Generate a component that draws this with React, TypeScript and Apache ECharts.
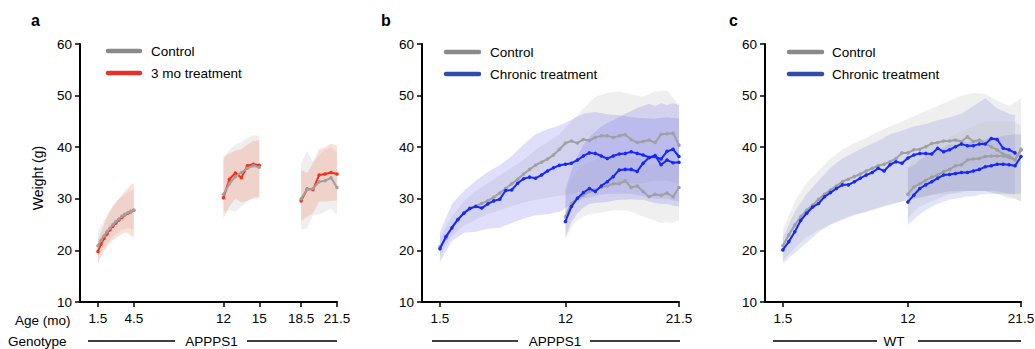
import React, { useEffect, useRef } from "react";
import * as echarts from "echarts";

// ---------- Panel a (APPPS1, 3 mo treatment) ----------
const aAges1 = [1.5, 1.75, 2, 2.25, 2.5, 2.75, 3, 3.25, 3.5, 3.75, 4, 4.25, 4.5];
const aCtrl1 = [20.9, 21.9, 22.8, 23.6, 24.3, 25.0, 25.6, 26.1, 26.6, 27.0, 27.3, 27.6, 27.8];
const aTrt1 = [19.8, 21.2, 22.3, 23.2, 24.0, 24.7, 25.3, 25.9, 26.4, 26.9, 27.2, 27.5, 27.8];
const aCtrl1Hi = [23.8, 24.8, 25.8, 26.8, 27.8, 28.6, 29.3, 30.0, 30.4, 30.8, 31.2, 31.5, 31.8];
const aCtrl1Lo = [18.5, 19.5, 20.5, 21.3, 22.0, 22.7, 23.2, 23.6, 24.0, 24.2, 24.4, 24.2, 24.0];
const aTrt1Hi = [22.0, 23.5, 25.0, 26.3, 27.5, 28.5, 29.3, 30.0, 30.7, 31.4, 32.0, 32.7, 33.0];
const aTrt1Lo = [17.4, 18.7, 19.8, 20.7, 21.4, 22.0, 22.4, 22.8, 23.2, 23.4, 23.4, 22.8, 22.6];

const aAges2 = [12, 12.5, 13, 13.5, 14, 14.5, 15];
const aCtrl2 = [30.9, 32.9, 34.3, 35.1, 35.9, 36.4, 36.1];
const aTrt2 = [30.2, 33.8, 35.0, 34.1, 36.4, 36.7, 36.5];
const aCtrl2Hi = [37.5, 39.5, 40.5, 41.0, 41.8, 42.3, 42.2];
const aCtrl2Lo = [27.5, 27.8, 27.5, 28.5, 29.5, 30.0, 30.0];
const aTrt2Hi = [38.2, 38.8, 39.3, 39.6, 40.5, 41.2, 41.4];
const aTrt2Lo = [26.3, 28.5, 30.0, 29.3, 29.6, 30.2, 30.4];

const aAges3 = [18.5, 19, 19.5, 20, 20.5, 21, 21.5];
const aCtrl3 = [30.0, 31.8, 32.0, 33.3, 33.5, 34.1, 32.2];
const aTrt3 = [29.6, 31.9, 31.8, 34.6, 34.8, 35.1, 34.8];
const aCtrl3Hi = [37.0, 39.2, 37.2, 38.5, 39.5, 40.0, 39.0];
const aCtrl3Lo = [24.0, 24.3, 26.8, 27.0, 27.5, 28.0, 26.9];
const aTrt3Hi = [35.6, 35.0, 37.0, 39.5, 40.0, 40.7, 40.3];
const aTrt3Lo = [25.7, 26.5, 27.2, 29.5, 29.5, 29.6, 29.6];

// ---------- shared age grids ----------
const agesLong = [1.5, 2, 2.5, 3, 3.5, 4, 4.5, 5, 5.5, 6, 6.5, 7, 7.5, 8, 8.5, 9, 9.5, 10, 10.5, 11, 11.5, 12,
  12.5, 13, 13.5, 14, 14.5, 15, 15.5, 16, 16.5, 17, 17.5, 18, 18.5, 19, 19.5, 20, 20.5, 21, 21.5];
const agesLongTo21 = [1.5, 2, 2.5, 3, 3.5, 4, 4.5, 5, 5.5, 6, 6.5, 7, 7.5, 8, 8.5, 9, 9.5, 10, 10.5, 11, 11.5, 12,
  12.5, 13, 13.5, 14, 14.5, 15, 15.5, 16, 16.5, 17, 17.5, 18, 18.5, 19, 19.5, 20, 20.5, 21];
const agesShort = [12, 12.5, 13, 13.5, 14, 14.5, 15, 15.5, 16, 16.5, 17, 17.5, 18, 18.5, 19, 19.5, 20, 20.5, 21, 21.5];
const bandAgesLong = [1.5, 2.5, 3.5, 4.5, 5.5, 6.5, 7.5, 8.5, 9.5, 10.5, 11.5, 12.5, 13.5, 14.5, 15.5, 16.5, 17.5, 18.5, 19.5, 20.5, 21.5];
const bandAgesLongTo21 = [1.5, 2.5, 3.5, 4.5, 5.5, 6.5, 7.5, 8.5, 9.5, 10.5, 11.5, 12.5, 13.5, 14.5, 15.5, 16.5, 17.5, 18.5, 19.5, 20.5, 21];

// ---------- Panel b (APPPS1, chronic) ----------
const bCtrlLong = [20.7, 22.3, 24.3, 25.9, 27.3, 28.2, 28.6, 29.1, 29.6, 30.3, 31.1, 32.0, 32.9, 33.8, 34.8, 35.7, 36.5, 37.1, 37.7, 38.5, 39.6, 40.8,
  41.2, 40.8, 41.5, 41.3, 41.9, 42.2, 42.2, 41.9, 42.2, 42.4, 41.5, 40.9, 41.1, 41.4, 40.9, 42.5, 42.6, 42.7, 40.4];
const bTrtLong = [20.3, 22.7, 24.4, 26.0, 27.2, 28.1, 28.5, 28.2, 29.0, 29.6, 29.9, 31.6, 31.7, 33.0, 33.9, 34.2, 34.0, 34.6, 35.4, 36.0, 36.5, 36.7,
  36.9, 37.5, 38.3, 38.9, 38.8, 38.3, 37.8, 38.3, 38.7, 38.8, 39.1, 38.8, 38.5, 38.0, 38.4, 36.6, 37.5, 37.0, 37.1];
const bCtrlShort = [26.5, 29.1, 30.1, 30.7, 31.4, 31.7, 32.2, 32.5, 32.9, 32.9, 33.5, 32.2, 32.5, 31.4, 30.4, 30.9, 30.7, 31.1, 30.4, 32.2];
const bTrtShort = [25.6, 28.5, 30.1, 31.2, 32.0, 31.4, 32.5, 33.3, 34.3, 35.6, 35.7, 35.7, 35.3, 36.9, 38.0, 38.2, 37.7, 39.2, 39.6, 38.2];

const bTrtLongHi = [23.5, 29.0, 31.5, 33.5, 35.2, 36.5, 38.3, 40.5, 42.5, 43.5, 44.2, 45.3, 46.5, 46.8, 46.4, 46.2, 45.8, 45.6, 45.5, 45.8, 45.5];
const bTrtLongLo = [17.8, 21.8, 23.4, 23.6, 24.2, 24.4, 25.3, 26.2, 26.8, 27.0, 27.5, 29.0, 30.0, 30.5, 31.0, 31.0, 31.0, 30.5, 30.0, 30.0, 29.5];
const bCtrlLongHi = [22.5, 26.5, 29.5, 31.5, 33.0, 34.5, 36.0, 37.5, 39.5, 41.0, 42.5, 45.0, 47.5, 49.8, 50.5, 50.8, 50.2, 49.8, 50.8, 51.0, 48.2];
const bCtrlLongLo = [19.0, 22.8, 24.8, 26.0, 27.0, 27.8, 28.6, 29.3, 29.8, 30.2, 30.6, 31.0, 31.5, 32.0, 32.5, 33.0, 33.0, 33.0, 33.5, 33.5, 33.0];
const bTrtShortHi = [31.7, 35.5, 38.2, 40.5, 42.0, 43.0, 44.0, 44.7, 45.2, 45.9, 46.5, 47.0, 47.6, 48.0, 48.4, 48.0, 48.5, 48.2, 48.5, 48.2];
const bTrtShortLo = [22.6, 25.5, 27.2, 28.3, 29.0, 29.2, 29.3, 29.4, 29.6, 29.8, 29.8, 29.9, 29.8, 29.8, 29.5, 29.2, 29.0, 29.0, 28.7, 28.5];
const bCtrlShortHi = [31.0, 34.0, 35.5, 36.5, 37.0, 37.5, 38.0, 38.2, 38.5, 38.5, 39.0, 38.0, 38.0, 37.5, 36.5, 37.0, 36.5, 37.0, 36.5, 38.0];
const bCtrlShortLo = [22.0, 24.5, 25.9, 26.5, 27.0, 27.2, 27.3, 27.6, 27.8, 27.8, 27.8, 27.5, 27.0, 26.5, 26.2, 25.8, 25.3, 25.5, 25.3, 25.9];

// ---------- Panel c (WT, chronic) ----------
const cCtrlLong = [20.9, 23.0, 24.9, 26.5, 27.8, 28.8, 29.9, 30.9, 31.7, 32.5, 33.3, 33.8, 34.3, 34.8, 35.4, 35.9, 36.4, 36.7, 37.2, 37.8, 38.9, 38.9,
  39.5, 39.6, 40.1, 40.7, 40.9, 41.2, 41.2, 41.4, 41.1, 42.0, 41.1, 41.4, 40.7, 40.1, 39.5, 38.7, 38.3, 37.6, 39.6];
const cTrtLong = [20.1, 21.7, 23.6, 25.8, 27.2, 28.4, 29.1, 30.4, 31.2, 32.0, 32.7, 32.7, 33.3, 34.0, 34.6, 35.1, 35.9, 35.4, 36.6, 37.2, 36.9, 37.9,
  38.5, 38.8, 38.8, 38.7, 39.8, 39.1, 39.5, 40.1, 40.6, 40.3, 40.3, 40.6, 40.6, 41.7, 41.5, 39.8, 39.5, 38.9];
const cCtrlShort = [30.9, 32.3, 32.9, 33.6, 34.2, 34.6, 35.3, 35.7, 36.4, 36.6, 37.5, 37.7, 37.8, 38.2, 38.3, 38.3, 38.3, 38.0, 37.5, 39.4];
const cTrtShort = [29.4, 30.7, 32.0, 32.7, 33.3, 34.0, 34.6, 34.7, 34.9, 35.1, 35.1, 35.4, 35.7, 36.2, 36.4, 36.7, 36.7, 36.6, 36.4, 38.2];

const cCtrlLongHi = [24.0, 29.5, 33.0, 35.5, 37.8, 39.5, 40.8, 41.8, 43.0, 44.0, 45.0, 46.0, 47.0, 48.0, 49.0, 50.0, 50.5, 50.3, 49.0, 48.0, 49.5];
const cCtrlLongLo = [18.0, 20.5, 22.5, 24.0, 25.0, 26.0, 27.0, 27.5, 28.2, 29.0, 29.5, 30.0, 30.5, 31.0, 31.0, 31.5, 31.5, 31.5, 31.0, 30.5, 29.5];
const cTrtLongHi = [22.5, 27.5, 31.0, 33.5, 36.0, 37.8, 39.0, 40.2, 41.2, 42.5, 43.2, 44.0, 44.5, 45.2, 45.8, 46.5, 48.0, 49.5, 47.5, 46.5, 46.2];
const cTrtLongLo = [17.5, 19.5, 21.5, 23.5, 25.0, 26.0, 26.8, 27.5, 28.2, 28.8, 29.5, 30.0, 30.5, 31.0, 31.5, 31.5, 31.5, 31.5, 31.5, 31.0, 30.8];
const cTrtShortHi = [36.0, 36.5, 37.5, 38.3, 39.0, 39.5, 40.0, 40.5, 40.5, 41.0, 41.0, 41.2, 41.5, 41.5, 42.0, 42.0, 42.2, 42.3, 42.5, 42.5];
const cTrtShortLo = [24.9, 26.0, 27.0, 27.8, 28.5, 29.0, 29.5, 29.8, 30.0, 30.2, 30.5, 30.5, 30.8, 31.0, 31.0, 31.0, 31.0, 31.0, 31.0, 31.0];
const cCtrlShortHi = [36.0, 38.0, 39.0, 40.0, 40.5, 41.0, 41.5, 42.0, 42.5, 43.0, 43.5, 44.0, 44.5, 45.0, 45.0, 45.0, 45.0, 45.0, 45.0, 44.0];
const cCtrlShortLo = [26.0, 27.5, 28.5, 29.0, 29.5, 30.0, 30.5, 31.0, 31.0, 31.2, 31.5, 31.5, 31.5, 31.5, 31.2, 31.0, 30.5, 30.0, 30.0, 29.5];

// ---------- ticks / labels ----------
const ticksA = [1.5, 4.5, 12, 15, 18.5, 21.5];
const ticksBC = [1.5, 12, 21.5];
const yMin = 10;
const yMax = 60;
const yStep = 10;

const FONT = '"Liberation Sans", Arial, Helvetica, sans-serif';
const GRAY_LINE = "#a0a0a0";
const RED_LINE = "#ff2b14";
const BLUE_LINE = "#1428ff";
const GRAY_BAND = "rgba(195,195,195,0.26)";
const RED_BAND = "rgba(238,130,100,0.26)";
const BLUE_BAND = "rgba(95,95,235,0.2)";
const BLUE_BAND_C = "rgba(100,115,215,0.19)";

function bandSeries(idx: number, ages: number[], lo: number[], hi: number[], color: string, z = 1) {
  return {
    type: "custom",
    xAxisIndex: idx,
    yAxisIndex: idx,
    z,
    silent: true,
    data: ages.map((a, i) => [a, lo[i], hi[i]]),
    encode: { x: 0, y: [1, 2] },
    renderItem: (params: any, api: any) => {
      if (params.dataIndex !== 0) return { type: "group", children: [] };
      const top = ages.map((a, i) => api.coord([a, hi[i]]));
      const bot = ages.map((a, i) => api.coord([a, lo[i]])).reverse();
      return { type: "polygon", shape: { points: top.concat(bot) }, style: { fill: color } };
    },
  };
}

function lineSeries(idx: number, ages: number[], vals: number[], color: string, z = 3) {
  return {
    type: "line",
    xAxisIndex: idx,
    yAxisIndex: idx,
    z,
    silent: true,
    data: ages.map((a, i) => [a, vals[i]]),
    symbol: "circle",
    symbolSize: 3.5,
    showSymbol: true,
    lineStyle: { color, width: 2 },
    itemStyle: { color },
  };
}

const txt = (text: string, x: number, y: number, align = "left", size = 13.5, extra: any = {}) => ({
  type: "text",
  x,
  y,
  silent: true,
  ...extra,
  style: {
    text,
    fill: "#000",
    font: `${extra.bold ? "bold " : ""}${size}px ${FONT}`,
    textAlign: align,
    textVerticalAlign: "middle",
  },
});

const hline = (x1: number, x2: number, y: number, color = "#000", width = 1.3, cap = "butt") => ({
  type: "line",
  silent: true,
  shape: { x1, y1: y, x2, y2: y },
  style: { stroke: color, lineWidth: width, lineCap: cap },
});

export default function App() {
  const ref = useRef<HTMLDivElement>(null);

  useEffect(() => {
    if (!ref.current) return;
    const chart = echarts.init(ref.current, null, { renderer: "svg" });

    const grids = [
      { left: 80, top: 44, width: 257, height: 258, outerBoundsMode: "none" },
      { left: 422, top: 44, width: 257, height: 258, outerBoundsMode: "none" },
      { left: 765, top: 44, width: 256, height: 258, outerBoundsMode: "none" },
    ];
    const tickSets = [ticksA, ticksBC, ticksBC];

    const xAxes = tickSets.map((ticks, i) => ({
      type: "value",
      gridIndex: i,
      min: 0,
      max: 21.5,
      splitLine: { show: false },
      axisLine: { show: true, onZero: false, lineStyle: { color: "#000", width: 2 } },
      axisTick: { show: true, length: 5, customValues: ticks, lineStyle: { color: "#000", width: 1.5 } },
      axisLabel: {
        show: true,
        customValues: ticks,
        margin: 9,
        color: "#000",
        fontSize: 13.5,
        fontFamily: FONT,
        formatter: (v: number) => String(v),
      },
    }));

    const yAxes = [0, 1, 2].map((i) => ({
      type: "value",
      gridIndex: i,
      min: yMin,
      max: yMax,
      interval: yStep,
      splitLine: { show: false },
      axisLine: { show: true, onZero: false, lineStyle: { color: "#000", width: 2 } },
      axisTick: { show: true, length: 5, lineStyle: { color: "#000", width: 1.5 } },
      axisLabel: { show: true, margin: 8, color: "#000", fontSize: 13.5, fontFamily: FONT },
    }));

    const series: any[] = [
      // panel a
      bandSeries(0, aAges1, aCtrl1Lo, aCtrl1Hi, GRAY_BAND),
      bandSeries(0, aAges1, aTrt1Lo, aTrt1Hi, RED_BAND),
      bandSeries(0, aAges2, aCtrl2Lo, aCtrl2Hi, GRAY_BAND),
      bandSeries(0, aAges2, aTrt2Lo, aTrt2Hi, RED_BAND),
      bandSeries(0, aAges3, aCtrl3Lo, aCtrl3Hi, GRAY_BAND),
      bandSeries(0, aAges3, aTrt3Lo, aTrt3Hi, RED_BAND),
      lineSeries(0, aAges1, aTrt1, RED_LINE, 3),
      lineSeries(0, aAges2, aTrt2, RED_LINE, 3),
      lineSeries(0, aAges3, aTrt3, RED_LINE, 3),
      lineSeries(0, aAges1, aCtrl1, GRAY_LINE, 4),
      lineSeries(0, aAges2, aCtrl2, GRAY_LINE, 4),
      lineSeries(0, aAges3, aCtrl3, GRAY_LINE, 4),
      // panel b
      bandSeries(1, bandAgesLong, bCtrlLongLo, bCtrlLongHi, GRAY_BAND),
      bandSeries(1, bandAgesLong, bTrtLongLo, bTrtLongHi, BLUE_BAND),
      bandSeries(1, agesShort, bCtrlShortLo, bCtrlShortHi, GRAY_BAND),
      bandSeries(1, agesShort, bTrtShortLo, bTrtShortHi, BLUE_BAND),
      lineSeries(1, agesLong, bCtrlLong, GRAY_LINE, 3),
      lineSeries(1, agesShort, bCtrlShort, GRAY_LINE, 3),
      lineSeries(1, agesLong, bTrtLong, BLUE_LINE, 4),
      lineSeries(1, agesShort, bTrtShort, BLUE_LINE, 4),
      // panel c
      bandSeries(2, bandAgesLong, cCtrlLongLo, cCtrlLongHi, GRAY_BAND),
      bandSeries(2, bandAgesLongTo21, cTrtLongLo, cTrtLongHi, BLUE_BAND_C),
      bandSeries(2, agesShort, cCtrlShortLo, cCtrlShortHi, GRAY_BAND),
      bandSeries(2, agesShort, cTrtShortLo, cTrtShortHi, BLUE_BAND_C),
      lineSeries(2, agesLong, cCtrlLong, GRAY_LINE, 3),
      lineSeries(2, agesShort, cCtrlShort, GRAY_LINE, 3),
      lineSeries(2, agesLongTo21, cTrtLong, BLUE_LINE, 4),
      lineSeries(2, agesShort, cTrtShort, BLUE_LINE, 4),
    ];

    const legendItems = (x1: number, x2: number, tx: number, y1: number, y2: number, name2: string, c2: string) => [
      hline(x1, x2, y1, "#8a8a8a", 4.5, "round"),
      hline(x1, x2, y2, c2, 4.5, "round"),
      txt("Control", tx, y1),
      txt(name2, tx, y2),
    ];

    const graphic: any[] = [
      txt("a", 31, 20.5, "left", 16, { bold: true }),
      txt("b", 381, 20.5, "left", 16, { bold: true }),
      txt("c", 729, 20.5, "left", 16, { bold: true }),
      { ...txt("Weight (g)", 38, 178, "center", 14), rotation: Math.PI / 2 },
      ...legendItems(108, 140, 151, 51, 73, "3 mo treatment", "#e8302a"),
      ...legendItems(446, 479, 490, 52, 74, "Chronic treatment", "#2f4ea8"),
      ...legendItems(789, 822, 832, 52, 74, "Chronic treatment", "#2f4ea8"),
      txt("Age (mo)", 15, 320, "left"),
      txt("Genotype", 8, 341, "left"),
      hline(88, 175, 341),
      txt("APPPS1", 211.5, 341, "center"),
      hline(247, 337, 341),
      hline(432, 518, 341),
      txt("APPPS1", 555, 341, "center"),
      hline(590, 680, 341),
      hline(773, 877, 341),
      txt("WT", 894, 341, "center"),
      hline(918, 1021, 341),
    ];

    chart.setOption({
      animation: false,
      backgroundColor: "#fff",
      textStyle: { fontFamily: FONT },
      grid: grids,
      xAxis: xAxes,
      yAxis: yAxes,
      series,
      graphic,
    });

    return () => chart.dispose();
  }, []);

  return <div ref={ref} style={{ position: "absolute", left: 0, top: 0, width: 1035, height: 349 }} />;
}
